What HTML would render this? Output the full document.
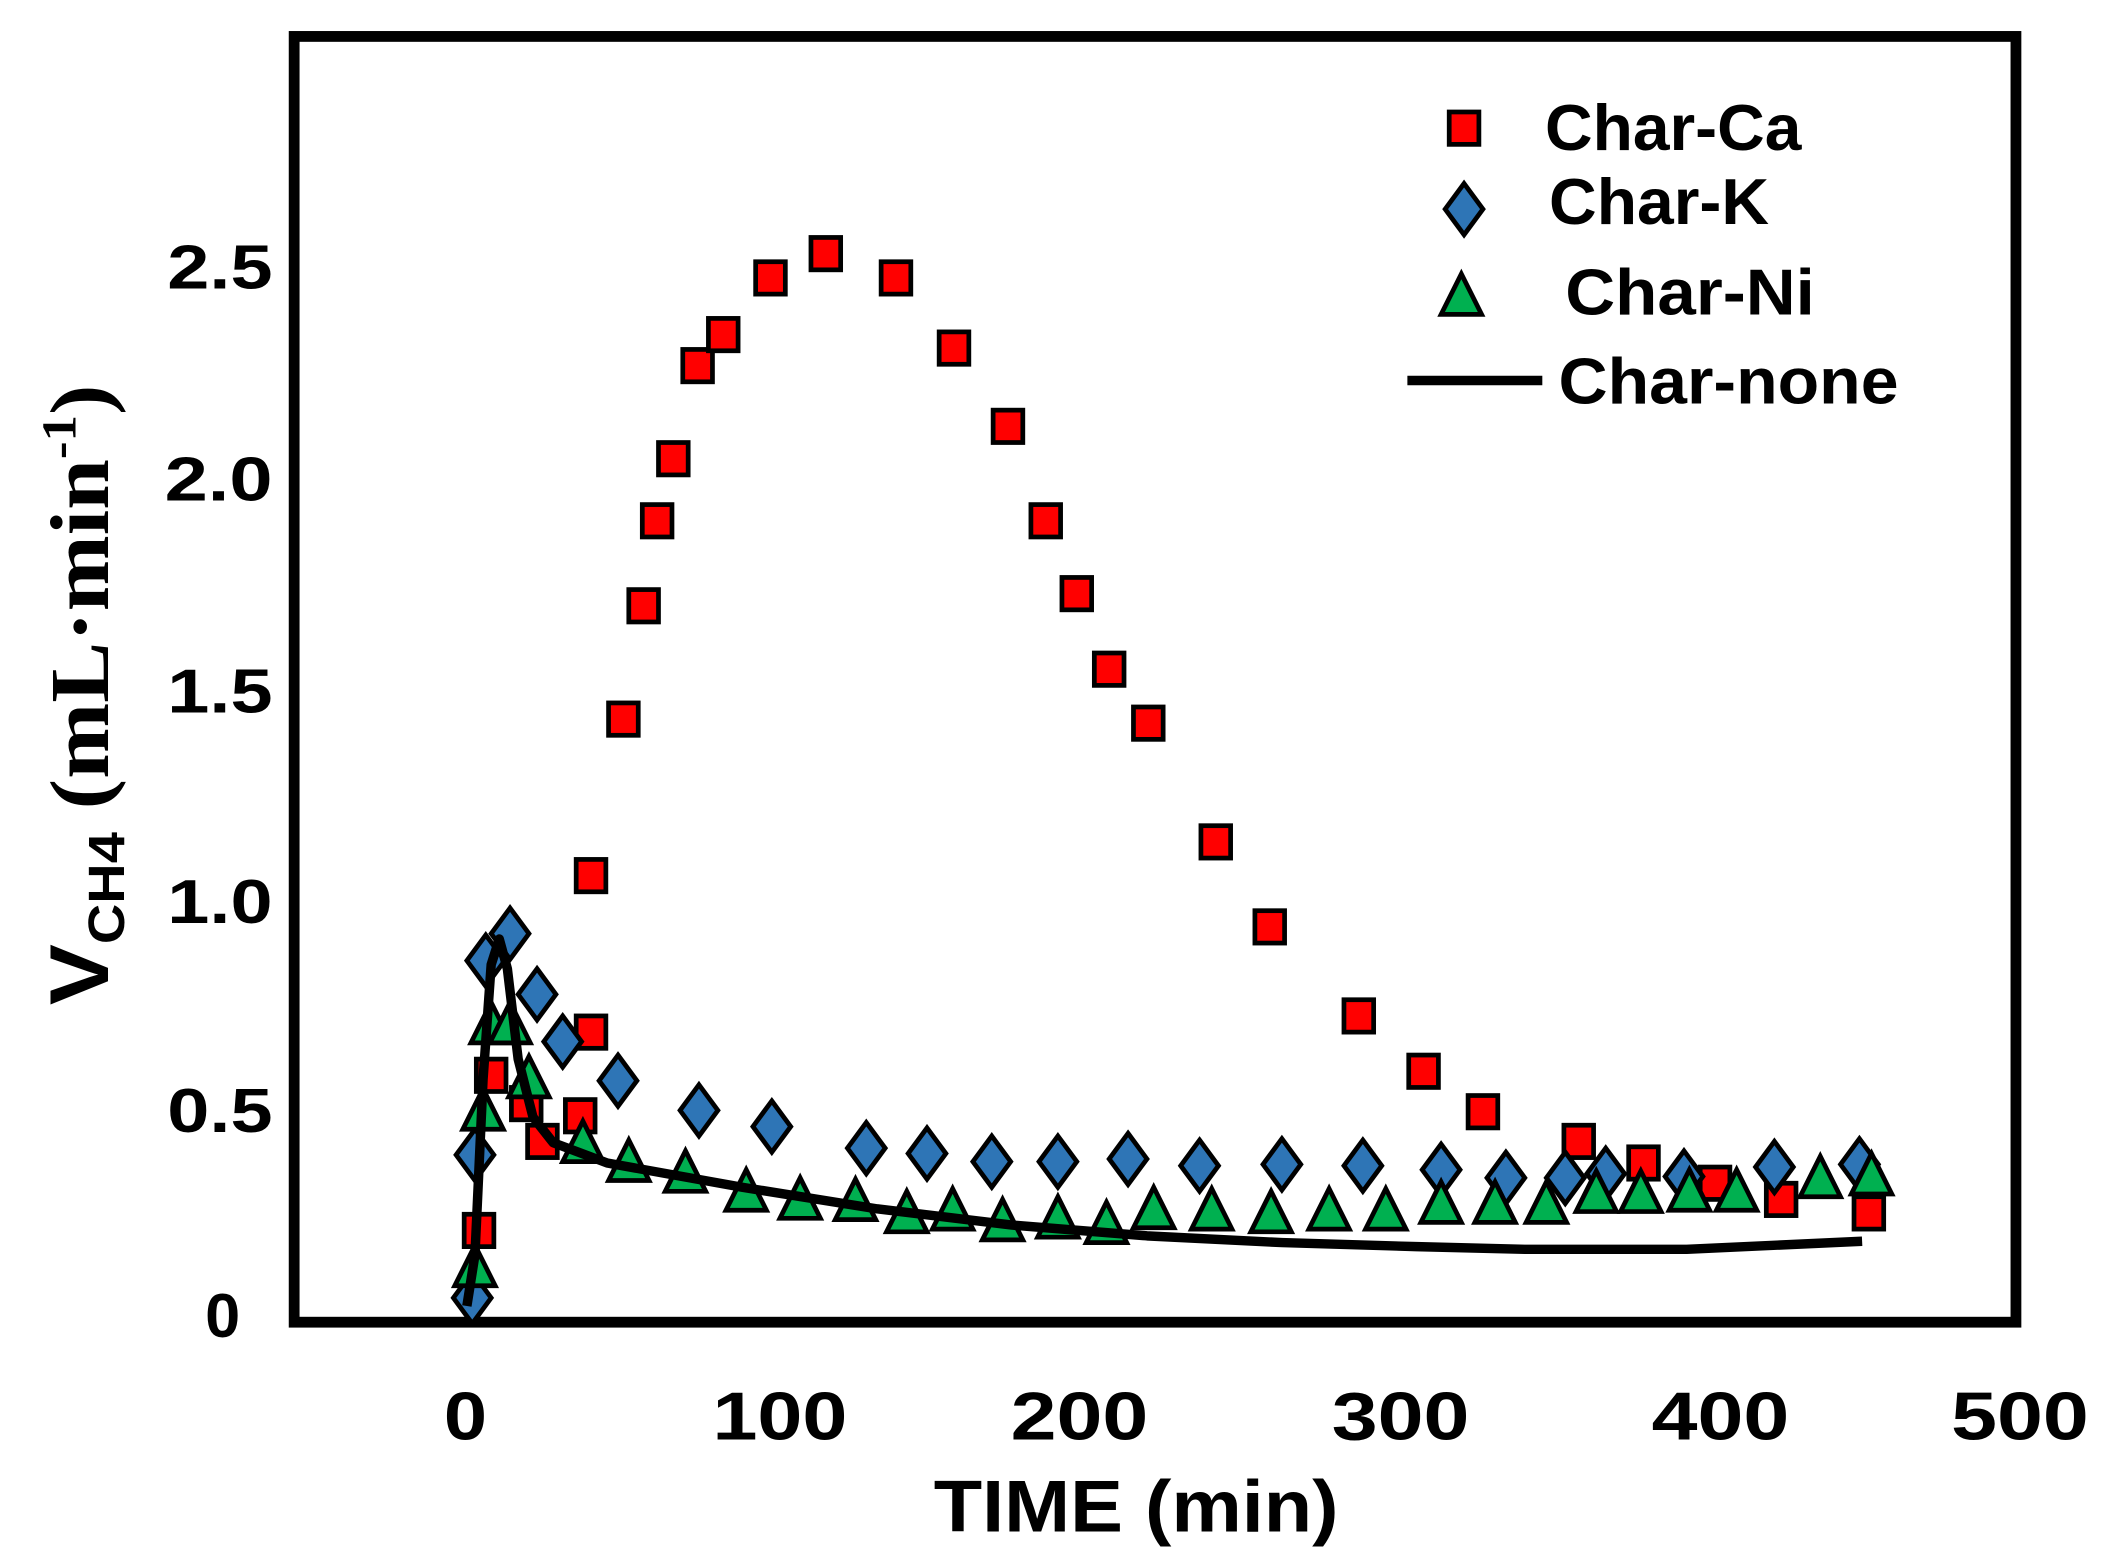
<!DOCTYPE html>
<html><head><meta charset="utf-8"><style>
html,body{margin:0;padding:0;background:#fff;}
svg{display:block;}
text{font-family:"Liberation Sans",sans-serif;font-weight:bold;fill:#000;}
</style></head><body>
<svg width="2105" height="1561" viewBox="0 0 1560 1157" preserveAspectRatio="none" xmlns="http://www.w3.org/2000/svg">
<defs>
<rect id="sq" x="-11" y="-12" width="22" height="24" fill="#ff0000" stroke="#000" stroke-width="3.5"/>
<path id="di" d="M0,-19 L14,0 L0,19 L-14,0 Z" fill="#2e75b6" stroke="#000" stroke-width="3.5"/>
<path id="tr" d="M0,-17 L15,13 L-15,13 Z" fill="#00b050" stroke="#000" stroke-width="3.5"/>
</defs>
<rect x="218" y="27" width="1276" height="953" fill="none" stroke="#000" stroke-width="8"/>
<g font-size="46" text-anchor="end">
<text x="178" y="991" textLength="26" lengthAdjust="spacingAndGlyphs">0</text>
<text x="202" y="839" textLength="78" lengthAdjust="spacingAndGlyphs">0.5</text>
<text x="202" y="684" textLength="78" lengthAdjust="spacingAndGlyphs">1.0</text>
<text x="202" y="528" textLength="78" lengthAdjust="spacingAndGlyphs">1.5</text>
<text x="202" y="371" textLength="80" lengthAdjust="spacingAndGlyphs">2.0</text>
<text x="202" y="214" textLength="78" lengthAdjust="spacingAndGlyphs">2.5</text>
</g>
<g font-size="50" text-anchor="middle">
<text x="345" y="1067" textLength="32" lengthAdjust="spacingAndGlyphs">0</text>
<text x="578" y="1067" textLength="100" lengthAdjust="spacingAndGlyphs">100</text>
<text x="800" y="1067" textLength="102" lengthAdjust="spacingAndGlyphs">200</text>
<text x="1038" y="1067" textLength="102" lengthAdjust="spacingAndGlyphs">300</text>
<text x="1275" y="1067" textLength="102" lengthAdjust="spacingAndGlyphs">400</text>
<text x="1497" y="1067" textLength="102" lengthAdjust="spacingAndGlyphs">500</text>
</g>
<text x="842" y="1135" font-size="54" text-anchor="middle" textLength="300" lengthAdjust="spacingAndGlyphs">TIME (min)</text>
<g transform="translate(80,515) rotate(-90)">
<text x="0" y="0" text-anchor="middle" font-size="62" textLength="460" lengthAdjust="spacingAndGlyphs"><tspan>V</tspan><tspan font-size="38" dy="12">CH4</tspan><tspan dy="-12" font-family="Liberation Serif"> (mL·min</tspan><tspan font-family="Liberation Serif" font-size="36" dy="-24">-1</tspan><tspan font-family="Liberation Serif" dy="24">)</tspan></text>
</g>
<g>
<use href="#sq" x="355" y="912"/><use href="#sq" x="364" y="797"/><use href="#sq" x="390" y="818"/><use href="#sq" x="402" y="846"/><use href="#sq" x="430" y="827"/><use href="#sq" x="438" y="765"/><use href="#sq" x="438" y="649"/><use href="#sq" x="462" y="533"/><use href="#sq" x="477" y="449"/><use href="#sq" x="487" y="386"/><use href="#sq" x="499" y="340"/><use href="#sq" x="517" y="271"/><use href="#sq" x="536" y="248"/><use href="#sq" x="571" y="206"/><use href="#sq" x="612" y="188"/><use href="#sq" x="664" y="206"/><use href="#sq" x="707" y="258"/><use href="#sq" x="747" y="316"/><use href="#sq" x="775" y="386"/><use href="#sq" x="798" y="440"/><use href="#sq" x="822" y="496"/><use href="#sq" x="851" y="536"/><use href="#sq" x="901" y="624"/><use href="#sq" x="941" y="687"/><use href="#sq" x="1007" y="753"/><use href="#sq" x="1055" y="794"/><use href="#sq" x="1099" y="824"/><use href="#sq" x="1170" y="846"/><use href="#sq" x="1218" y="862"/><use href="#sq" x="1271" y="877"/><use href="#sq" x="1320" y="889"/><use href="#sq" x="1385" y="899"/>
</g>
<g>
<use href="#di" x="350" y="962"/><use href="#di" x="352" y="856"/><use href="#di" x="360" y="712"/><use href="#di" x="378" y="692"/><use href="#di" x="398" y="737"/><use href="#di" x="417" y="772"/><use href="#di" x="458" y="801"/><use href="#di" x="518" y="823"/><use href="#di" x="572" y="835"/><use href="#di" x="642" y="851"/><use href="#di" x="687" y="855"/><use href="#di" x="735" y="861"/><use href="#di" x="784" y="861"/><use href="#di" x="836" y="859"/><use href="#di" x="889" y="864"/><use href="#di" x="950" y="863"/><use href="#di" x="1010" y="864"/><use href="#di" x="1068" y="867"/><use href="#di" x="1116" y="873"/><use href="#di" x="1160" y="873"/><use href="#di" x="1190" y="870"/><use href="#di" x="1248" y="872"/><use href="#di" x="1315" y="865"/><use href="#di" x="1378" y="863"/>
</g>
<g>
<use href="#tr" x="352" y="940"/><use href="#tr" x="358" y="824"/><use href="#tr" x="364" y="760"/><use href="#tr" x="378" y="760"/><use href="#tr" x="392" y="800"/><use href="#tr" x="432" y="848"/><use href="#tr" x="466" y="862"/><use href="#tr" x="508" y="870"/><use href="#tr" x="553" y="884"/><use href="#tr" x="593" y="890"/><use href="#tr" x="634" y="891"/><use href="#tr" x="672" y="900"/><use href="#tr" x="706" y="898"/><use href="#tr" x="743" y="906"/><use href="#tr" x="784" y="904"/><use href="#tr" x="820" y="908"/><use href="#tr" x="855" y="897"/><use href="#tr" x="898" y="898"/><use href="#tr" x="942" y="900"/><use href="#tr" x="985" y="898"/><use href="#tr" x="1027" y="898"/><use href="#tr" x="1068" y="893"/><use href="#tr" x="1108" y="893"/><use href="#tr" x="1146" y="893"/><use href="#tr" x="1183" y="885"/><use href="#tr" x="1216" y="885"/><use href="#tr" x="1252" y="884"/><use href="#tr" x="1287" y="884"/><use href="#tr" x="1349" y="874"/><use href="#tr" x="1387" y="872"/>
</g>
<path d="M346,968 L352,930 L358,800 L364,715 L370,696 L376,718 L384,785 L395,828 L410,847 L450,862 L550,880 L650,896 L750,908 L850,916 L950,921 L1050,924 L1130,926 L1250,926 L1380,920" fill="none" stroke="#000" stroke-width="7" stroke-linejoin="round"/>
<use href="#sq" x="1085" y="95"/>
<use href="#di" x="1085" y="155"/>
<use href="#tr" x="1083" y="220"/>
<line x1="1043" y1="282" x2="1143" y2="282" stroke="#000" stroke-width="7"/>
<g font-size="48">
<text x="1145" y="111" textLength="190" lengthAdjust="spacingAndGlyphs">Char-Ca</text>
<text x="1148" y="166" textLength="163" lengthAdjust="spacingAndGlyphs">Char-K</text>
<text x="1160" y="233" textLength="185" lengthAdjust="spacingAndGlyphs">Char-Ni</text>
<text x="1155" y="299" textLength="252" lengthAdjust="spacingAndGlyphs">Char-none</text>
</g>
</svg>
</body></html>
